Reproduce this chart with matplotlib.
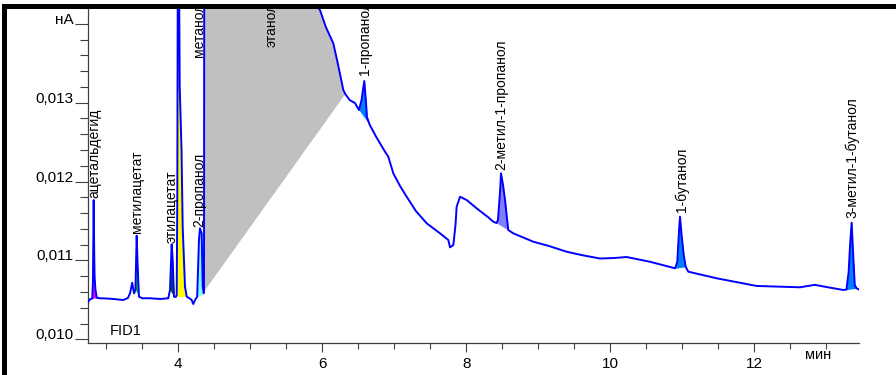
import numpy as np
import matplotlib
matplotlib.use("Agg")
import matplotlib.pyplot as plt
from matplotlib.patches import Rectangle
from matplotlib import transforms
from matplotlib.ticker import MultipleLocator, FixedLocator, FixedFormatter

plt.rcParams['font.family'] = ['Liberation Sans', 'DejaVu Sans']

# ---- data (time in min, signal in nA) ----
time_min = [2.750, 2.774, 2.805, 2.815, 2.825, 2.832, 2.838, 2.850, 2.867, 2.912,
            3.000, 3.100, 3.236, 3.300, 3.330, 3.360, 3.385, 3.405, 3.422, 3.436,
            3.454, 3.500, 3.607, 3.750, 3.861, 3.885, 3.908, 3.922, 3.940, 3.965,
            3.978, 3.986, 3.995, 4.005, 4.020, 4.045, 4.061, 4.093, 4.117, 4.150,
            4.186, 4.208, 4.240, 4.262, 4.287, 4.301, 4.325, 4.339, 4.353, 4.357,
            4.362, 5.000, 5.600, 5.899, 5.968, 6.050, 6.153, 6.220, 6.292, 6.320,
            6.380, 6.454, 6.510, 6.545, 6.583, 6.605, 6.620, 6.660, 6.750, 6.871,
            6.917, 6.986, 7.080, 7.172, 7.300, 7.450, 7.635, 7.750, 7.774, 7.820,
            7.850, 7.866, 7.913, 8.006, 8.144, 8.300, 8.375, 8.420, 8.440, 8.470,
            8.482, 8.510, 8.538, 8.560, 8.583, 8.653, 8.930, 9.150, 9.394, 9.600,
            9.857, 10.050, 10.227, 10.550, 10.900, 10.930, 10.955, 10.968, 10.990, 11.020,
            11.047, 11.083, 11.478, 12.033, 12.635, 12.840, 13.000, 13.236, 13.280, 13.310,
            13.330, 13.352, 13.370, 13.395, 13.420, 13.468]
signal_nA = [0.010477, 0.010507, 0.010517, 0.010752, 0.011765, 0.011100, 0.010777, 0.010625, 0.010527, 0.010520,
             0.010517, 0.010511, 0.010498, 0.010523, 0.010583, 0.010717, 0.010583, 0.010625, 0.011313, 0.010920,
             0.010540, 0.010520, 0.010520, 0.010511, 0.010520, 0.010625, 0.011204, 0.011005, 0.010540, 0.010536,
             0.010561, 0.011765, 0.015500, 0.015500, 0.013198, 0.012399, 0.011427, 0.010667, 0.010540, 0.010523,
             0.010498, 0.010447, 0.010511, 0.010536, 0.011259, 0.011407, 0.011343, 0.010667, 0.010583, 0.010603,
             0.017000, 0.016500, 0.015000, 0.014250, 0.014173, 0.013958, 0.013752, 0.013477, 0.013160, 0.013109,
             0.013033, 0.012995, 0.012906, 0.013033, 0.013274, 0.013033, 0.012817, 0.012716, 0.012564, 0.012378,
             0.012314, 0.012104, 0.011943, 0.011807, 0.011626, 0.011470, 0.011343, 0.011259, 0.011166, 0.011195,
             0.011449, 0.011681, 0.011807, 0.011765, 0.011660, 0.011550, 0.011490, 0.011474, 0.011512, 0.011892,
             0.012104, 0.011956, 0.011765, 0.011575, 0.011385, 0.011343, 0.011237, 0.011182, 0.011110, 0.011068,
             0.011024, 0.011030, 0.011043, 0.010983, 0.010900, 0.010980, 0.011385, 0.011554, 0.011322, 0.011068,
             0.010920, 0.010857, 0.010773, 0.010676, 0.010659, 0.010690, 0.010663, 0.010625, 0.010630, 0.010850,
             0.011195, 0.011478, 0.011132, 0.010688, 0.010646, 0.010625]

peak_names = ["ацетальдегид", "метилацетат", "этилацетат", "метанол", "2-пропанол",
              "этанол", "1-пропанол", "2-метил-1-пропанол", "1-бутанол", "3-метил-1-бутанол"]
peak_start = [2.805, 3.405, 3.885, 3.965, 4.262, 4.357, 6.510, 8.420, 10.900, 13.280]
peak_end = [2.867, 3.454, 3.940, 4.117, 4.353, 6.320, 6.660, 8.583, 11.047, 13.420]
peak_colors = ["#ff00ff", "#00dd00", "#006400", "#ffff00", "#80ffff",
               "#c0c0c0", "#0080ff", "#8080ff", "#0080ff", "#0080ff"]
label_t = [2.833, 3.422, 3.908, 4.283, 4.288, 5.297, 6.593, 8.492, 10.992, 13.353]
label_y = [0.011791, 0.011347, 0.011220, 0.013578, 0.011427, 0.013708, 0.013350, 0.012146, 0.011617, 0.011534]

y_ticks = [0.010, 0.011, 0.012, 0.013, 0.014]
y_ticklabels = ["0,010", "0,011", "0,012", "0,013", "нА"]
x_ticks = [4, 6, 8, 10, 12]
x_ticklabels = ["4", "6", "8", "10", "12"]

t = np.array(time_min)
s = np.array(signal_nA)

W, H = 896, 375
fig = plt.figure(figsize=(W / 100, H / 100), dpi=100)
ax = fig.add_axes([88 / W, (H - 343.3) / H, (859 - 88) / W, (343.3 - 8) / H])
ax.set_xlim(2.746, 13.454)
ax.set_ylim(0.009949, 0.0142)

# peak fills (area between curve and straight integration baseline)
for t0, t1, c in zip(peak_start, peak_end, peak_colors):
    m = (t >= t0) & (t <= t1)
    y0 = np.interp(t0, t, s)
    y1 = np.interp(t1, t, s)
    base = y0 + (t[m] - t0) * (y1 - y0) / (t1 - t0)
    ax.fill_between(t[m], base, s[m], color=c, linewidth=0, zorder=1)

ax.plot(t, s, color="#0000ff", lw=1.4, zorder=3, solid_joinstyle="round")

for name, lx, ly in zip(peak_names, label_t, label_y):
    ax.text(lx, ly, name, rotation=90, ha="center", va="bottom", fontsize=10,
            color="black", clip_on=True, zorder=4)

# axes styling
for sp in ["top", "right"]:
    ax.spines[sp].set_visible(False)
for sp in ["left", "bottom"]:
    ax.spines[sp].set_color("#404040")
    ax.spines[sp].set_linewidth(0.9)

ax.yaxis.set_major_locator(FixedLocator(y_ticks))
ax.yaxis.set_major_formatter(FixedFormatter(y_ticklabels))
ax.yaxis.set_minor_locator(MultipleLocator(0.0002))
ax.xaxis.set_major_locator(FixedLocator(x_ticks))
ax.xaxis.set_major_formatter(FixedFormatter(x_ticklabels))
ax.xaxis.set_minor_locator(MultipleLocator(0.5))

ax.tick_params(axis="y", which="major", length=9.4, width=0.8, color="#404040",
               pad=0.8, labelsize=11)
ax.tick_params(axis="y", which="minor", length=5.8, width=0.8, color="#404040")
ax.tick_params(axis="x", which="major", length=6.5, width=0.8, color="#404040",
               pad=3.5, labelsize=11)
ax.tick_params(axis="x", which="minor", length=4.5, width=0.8, color="#404040")
for lab in ax.get_yticklabels():
    lab.set_verticalalignment("baseline")

ax.text(0.0285, 0.025, "FID1", transform=ax.transAxes, ha="left", va="baseline",
        fontsize=10.5)
trans = transforms.blended_transform_factory(ax.transData, fig.transFigure)
ax.text(12.885, (H - 359) / H, "мин", transform=trans, ha="center", va="baseline",
        fontsize=10.5, clip_on=False)

# black frame bars
fig.patches.append(Rectangle((2 / W, 0), 5 / W, (H - 4) / H, transform=fig.transFigure,
                             facecolor="black", edgecolor="none", zorder=10))
fig.patches.append(Rectangle((2 / W, (H - 9) / H), 1 - 2 / W, 5 / H, transform=fig.transFigure,
                             facecolor="black", edgecolor="none", zorder=10))

fig.savefig("out.png", dpi=100)
